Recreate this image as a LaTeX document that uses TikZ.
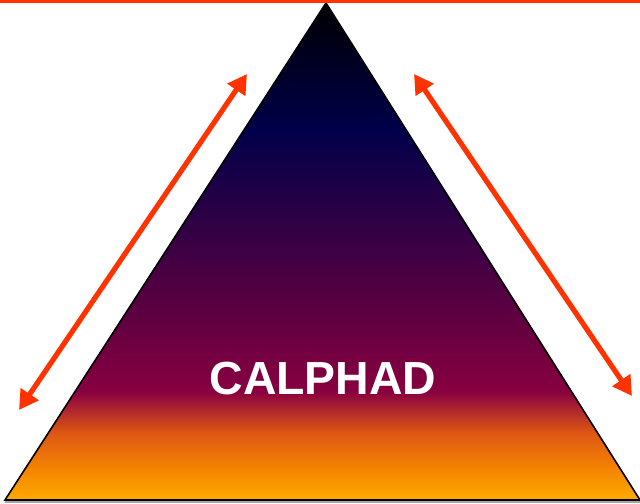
\documentclass[tikz,border=0pt]{standalone}
\usepackage{fontspec}
\setmainfont{Liberation Sans}
\usetikzlibrary{arrows.meta,positioning}
\definecolor{arrowred}{RGB}{255,51,0}
\definecolor{gradA}{RGB}{0,0,0}
\definecolor{gradB}{RGB}{0,0,74}
\definecolor{gradC}{RGB}{51,0,68}
\definecolor{gradD}{RGB}{102,0,64}
\definecolor{gradE}{RGB}{136,0,64}
\definecolor{gradF}{RGB}{221,85,21}
\definecolor{gradG}{RGB}{245,133,0}
\definecolor{gradH}{RGB}{255,176,0}

\begin{document}
\begin{tikzpicture}[x=0.025cm,y=-0.025cm,
    pairarrow/.style={arrowred, line width=1.3mm, {Triangle[length=4.8mm,width=5.2mm]}-{Triangle[length=4.8mm,width=5.2mm]}}]
        \useasboundingbox (0,0) rectangle (640,504);
        \coordinate (top) at (326,3);
        \coordinate (L) at (5,500);
        \coordinate (R) at (640,500);
        \coordinate (barL) at (0,1.5);
        \coordinate (barR) at (640,1.5);
        \coordinate (a1) at (247,74);
        \coordinate (a2) at (19,410);
        \coordinate (b1) at (414,74);
        \coordinate (b2) at (632,396);
        % gradient fill, in bands
        \begin{scope}
          \clip (top) -- (L) -- (R) -- cycle;
          \shade[top color=gradA, bottom color=gradB] (0,0) rectangle (640,130);
          \shade[top color=gradB, bottom color=gradC] (0,129.5) rectangle (640,230);
          \shade[top color=gradC, bottom color=gradD] (0,229.5) rectangle (640,330);
          \shade[top color=gradD, bottom color=gradE] (0,329.5) rectangle (640,392);
          \shade[top color=gradE, bottom color=gradF] (0,391.5) rectangle (640,432);
          \shade[top color=gradF, bottom color=gradG] (0,431.5) rectangle (640,470);
          \shade[top color=gradG, bottom color=gradH] (0,469.5) rectangle (640,504);
        \end{scope}
        \draw[gray!70, line width=0.5mm] ([yshift=-0.06cm]L) -- ([yshift=-0.06cm]R);
        \draw[black, line width=0.4mm, line join=miter] (top) -- (L) -- (R) -- cycle;
        \draw[arrowred, line width=0.75mm] (barL) -- (barR);
        \draw[pairarrow] (a1) -- (a2);
        \draw[pairarrow] (b1) -- (b2);
        \node[text=white, font=\fontsize{33}{33}\selectfont\bfseries] (calphad) at (323,379) {CALPHAD};
      \end{tikzpicture}
\end{document}
